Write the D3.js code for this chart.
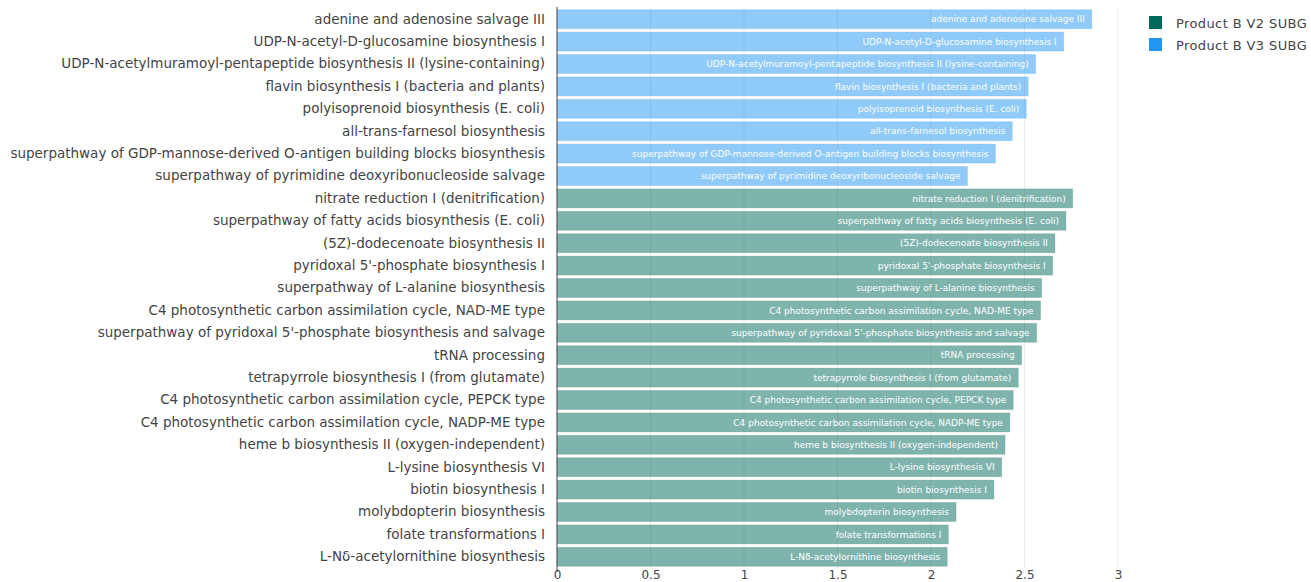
<!DOCTYPE html>
<html>
<head>
<meta charset="utf-8">
<script src="https://cdn.jsdelivr.net/npm/d3@7"></script>
<style>
  body { margin: 0; background: #fff; }
  svg text { font-family: "DejaVu Sans", Verdana, sans-serif; }
</style>
</head>
<body>
<script>
const w = 1311;
const h = 582;

const margin = { top: 8, right: 193, bottom: 14, left: 557 };

// pathways from top to bottom
const v3Pathways = [
  "adenine and adenosine salvage III",
  "UDP-N-acetyl-D-glucosamine biosynthesis I",
  "UDP-N-acetylmuramoyl-pentapeptide biosynthesis II (lysine-containing)",
  "flavin biosynthesis I (bacteria and plants)",
  "polyisoprenoid biosynthesis (E. coli)",
  "all-trans-farnesol biosynthesis",
  "superpathway of GDP-mannose-derived O-antigen building blocks biosynthesis",
  "superpathway of pyrimidine deoxyribonucleoside salvage"
];
const v3Values = [2.86, 2.71, 2.56, 2.52, 2.51, 2.435, 2.345, 2.195];

const v2Pathways = [
  "nitrate reduction I (denitrification)",
  "superpathway of fatty acids biosynthesis (E. coli)",
  "(5Z)-dodecenoate biosynthesis II",
  "pyridoxal 5'-phosphate biosynthesis I",
  "superpathway of L-alanine biosynthesis",
  "C4 photosynthetic carbon assimilation cycle, NAD-ME type",
  "superpathway of pyridoxal 5'-phosphate biosynthesis and salvage",
  "tRNA processing",
  "tetrapyrrole biosynthesis I (from glutamate)",
  "C4 photosynthetic carbon assimilation cycle, PEPCK type",
  "C4 photosynthetic carbon assimilation cycle, NADP-ME type",
  "heme b biosynthesis II (oxygen-independent)",
  "L-lysine biosynthesis VI",
  "biotin biosynthesis I",
  "molybdopterin biosynthesis",
  "folate transformations I",
  "L-N\u03b4-acetylornithine biosynthesis"
];
const v2Values = [2.758, 2.722, 2.663, 2.651, 2.592, 2.586, 2.565, 2.485,
  2.467, 2.44, 2.422, 2.396, 2.378, 2.337, 2.134, 2.093, 2.087];

const seriesNames = ["Product B V2 SUBG", "Product B V3 SUBG"];
const seriesColors = ["#00695c", "#2196f3"];
const xTicks = [0, 0.5, 1, 1.5, 2, 2.5, 3];

const rows = v3Pathways.map((p, i) => ({ name: p, value: v3Values[i], s: 1 }))
  .concat(v2Pathways.map((p, i) => ({ name: p, value: v2Values[i], s: 0 })));

const svg = d3.select("body").append("svg").attr("width", w).attr("height", h);

const xScale = d3.scaleLinear().domain([0, 3]).range([margin.left, w - margin.right]);
const yScale = d3.scaleBand()
  .domain(rows.map(d => d.name))
  .range([margin.top, h - margin.bottom])
  .paddingInner(0.15)
  .paddingOuter(0.075);

// grid
svg.append("g").selectAll("line")
  .data(xTicks.slice(1))
  .enter().append("line")
  .attr("x1", d => xScale(d)).attr("x2", d => xScale(d))
  .attr("y1", margin.top - 1).attr("y2", h - margin.bottom)
  .attr("stroke", "#ebebeb").attr("stroke-width", 1);

// bars
const bars = svg.append("g");
bars.selectAll("rect")
  .data(rows)
  .enter().append("rect")
  .attr("x", xScale(0))
  .attr("y", d => yScale(d.name))
  .attr("width", d => xScale(d.value) - xScale(0))
  .attr("height", yScale.bandwidth())
  .attr("fill", d => seriesColors[d.s])
  .attr("fill-opacity", 0.5)
  .attr("stroke", d => seriesColors[d.s])
  .attr("stroke-opacity", 0.15)
  .attr("stroke-width", 1);

bars.selectAll(".bar-label")
  .data(rows)
  .enter().append("text")
  .attr("class", "bar-label")
  .attr("x", d => xScale(d.value) - 7)
  .attr("y", d => yScale(d.name) + yScale.bandwidth() / 2)
  .attr("dy", "0.35em")
  .attr("text-anchor", "end")
  .attr("font-size", 9)
  .attr("fill", "#fff")
  .text(d => d.name);

// y axis
const yAxis = d3.axisLeft(yScale).tickSize(0).tickPadding(12);
const yG = svg.append("g")
  .attr("transform", "translate(" + margin.left + ",0)")
  .call(yAxis);
yG.select(".domain").remove();
yG.selectAll("text").attr("font-size", 13.5).attr("fill", "#444");

svg.append("line")
  .attr("x1", xScale(0)).attr("x2", xScale(0))
  .attr("y1", margin.top - 1).attr("y2", h - margin.bottom + 4)
  .attr("stroke", "#444").attr("stroke-width", 1);

// x axis - kept just inside the bottom edge
const xAxis = d3.axisBottom(xScale).tickValues(xTicks).tickSize(0).tickPadding(2)
  .tickFormat(d3.format(""));
const xG = svg.append("g")
  .attr("transform", "translate(0," + (h - margin.bottom) + ")")
  .call(xAxis);
xG.select(".domain").remove();
xG.selectAll("text").attr("font-size", 12).attr("fill", "#444");

// legend
const legend = svg.append("g").attr("transform", "translate(1149,16)");
const items = legend.selectAll("g")
  .data(seriesNames)
  .enter().append("g")
  .attr("transform", (d, i) => "translate(0," + i * 22 + ")");
items.append("rect")
  .attr("width", 13).attr("height", 13)
  .attr("fill", (d, i) => seriesColors[i]);
items.append("text")
  .attr("x", 27).attr("y", 7).attr("dy", "0.35em")
  .attr("font-size", 13).attr("letter-spacing", 0.4).attr("fill", "#444")
  .text(d => d);
</script>
</body>
</html>
